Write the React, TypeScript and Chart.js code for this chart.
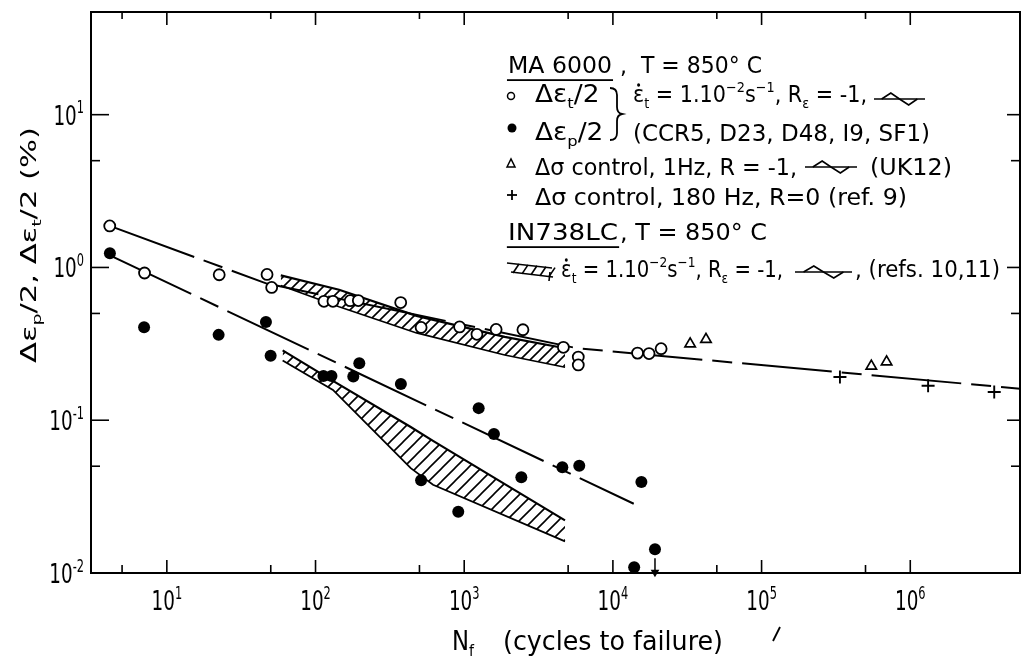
import React, { useEffect, useRef } from 'react';
import { Chart, registerables } from 'chart.js';

Chart.register(...registerables);

// ---------- axes ----------
const X_MIN = 3.09;
const X_MAX = 5.47e6;
const Y_MIN = 0.01;
const Y_MAX = 47;

const xMajorTicks = [10, 100, 1000, 10000, 100000, 1000000];
const xMajorExp = ['1', '2', '3', '4', '5', '6'];
const xMinorTicks = [5, 50, 500, 5000, 50000, 500000];
const yMajorTicks = [0.01, 0.1, 1, 10];
const yMajorExp = ['-2', '-1', '0', '1'];
const yMinorTicks = [0.05, 0.5, 5];

// ---------- MA 6000 data ----------
// open circles: total strain amplitude
const openN = [4.13, 7.08, 22.5, 47.2, 50.7, 114, 131, 171, 194, 374, 513, 931, 1218, 1639, 2483, 4645, 5850, 5850, 14650, 17500, 21100];
const openE = [1.87, 0.92, 0.896, 0.9, 0.74, 0.6, 0.6, 0.606, 0.607, 0.589, 0.405, 0.408, 0.365, 0.393, 0.391, 0.3, 0.259, 0.23, 0.275, 0.273, 0.294];
// filled circles: plastic strain amplitude
const filledN = [4.14, 7.03, 22.3, 46.4, 49.9, 113, 128, 197, 179.5, 375, 513, 1251, 1585, 912, 2422, 4570, 5940, 15550, 19190, 13900];
const filledE = [1.24, 0.406, 0.362, 0.44, 0.264, 0.195, 0.195, 0.236, 0.193, 0.1726, 0.0405, 0.12, 0.0813, 0.0252, 0.0424, 0.0492, 0.0504, 0.0394, 0.0143, 0.0109];
// triangles: stress control 1 Hz
const triN = [33080, 42270, 547000, 693000];
const triE = [0.316, 0.338, 0.226, 0.241];
// plus: stress control 180 Hz
const plusN = [336500, 1318000, 3670000];
const plusE = [0.192, 0.168, 0.153];
// run-out arrow below a filled circle
const arrowN = [19190, 19190];
const arrowE = [0.0125, 0.0101];

// fit curves
const fitTotalN = [4.13, 47.0, 5736, 5.47e6];
const fitTotalE = [1.87, 0.784, 0.296, 0.1607];
const fitPlasticN = [4.14, 13810];
const fitPlasticE = [1.2, 0.0284];

// ---------- IN738LC scatter bands ----------
const bandUpN = [58.4, 144, 478, 1873, 4770];
const bandUpTop = [0.888, 0.714, 0.482, 0.351, 0.296];
const bandUpBot = [0.763, 0.553, 0.373, 0.267, 0.222];
const bandLoN = [60.1, 131, 437, 617, 4763];
const bandLoTop = [0.2865, 0.181, 0.0902, 0.0733, 0.0221];
const bandLoBot = [0.2463, 0.158, 0.0486, 0.0378, 0.0161];

const pts = (xs: number[], ys: number[]) => xs.map((x, i) => ({ x, y: ys[i] }));

// ---------- text helpers ----------
type Run = { t: string; k?: 'sub' | 'sup' | 'dot' | 'u' };
const FAM = '"DejaVu Sans", "Liberation Sans", sans-serif';

function runSize(r: Run, F: number) {
  return r.k === 'sub' || r.k === 'sup' ? F * 0.62 : F;
}

function drawRuns(
  ctx: CanvasRenderingContext2D,
  runs: Run[],
  x: number,
  y: number,
  F: number,
  opt: { w?: number; sx?: number; maxSx?: number; align?: 'left' | 'center' | 'right' } = {}
) {
  let total = 0;
  const widths = runs.map((r) => {
    ctx.font = `${runSize(r, F)}px ${FAM}`;
    const w = ctx.measureText(r.t).width;
    total += w;
    return w;
  });
  let sx = opt.w ? opt.w / total : opt.sx ?? 1;
  if (opt.maxSx !== undefined) sx = Math.min(sx, opt.maxSx);
  const W = total * sx;
  const x0 = opt.align === 'center' ? x - W / 2 : opt.align === 'right' ? x - W : x;
  ctx.save();
  ctx.translate(x0, y);
  ctx.scale(sx, 1);
  ctx.textAlign = 'left';
  ctx.textBaseline = 'alphabetic';
  ctx.fillStyle = '#000';
  let cx = 0;
  runs.forEach((r, i) => {
    ctx.font = `${runSize(r, F)}px ${FAM}`;
    const dy = r.k === 'sub' ? 0.24 * F : r.k === 'sup' ? -0.42 * F : 0;
    ctx.fillText(r.t, cx, dy);
    if (r.k === 'dot') {
      ctx.beginPath();
      ctx.arc(cx + widths[i] * 0.5, -0.74 * F, 0.075 * F, 0, Math.PI * 2);
      ctx.fill();
    }
    if (r.k === 'u') ctx.fillRect(cx - 1, 0.27 * F, widths[i] + 2, 1.8);
    cx += widths[i];
  });
  ctx.restore();
}

function seg(ctx: CanvasRenderingContext2D, x1: number, y1: number, x2: number, y2: number) {
  ctx.beginPath();
  ctx.moveTo(x1, y1);
  ctx.lineTo(x2, y2);
  ctx.stroke();
}

function wave(ctx: CanvasRenderingContext2D, x0: number, x1: number, y: number) {
  const w = x1 - x0;
  ctx.lineWidth = 1.6;
  seg(ctx, x0, y, x1, y);
  ctx.beginPath();
  ctx.moveTo(x0 + 0.15 * w, y);
  ctx.lineTo(x0 + 0.33 * w, y - 6);
  ctx.lineTo(x0 + 0.5 * w, y);
  ctx.lineTo(x0 + 0.68 * w, y + 6);
  ctx.lineTo(x0 + 0.85 * w, y);
  ctx.stroke();
}

// ---------- legend text ----------
const LEG_F = 23;
const strainRateRuns: Run[] = [
  { t: 'ε', k: 'dot' }, { t: 't', k: 'sub' }, { t: ' = 1.10' }, { t: '−2', k: 'sup' },
  { t: 's' }, { t: '−1', k: 'sup' }, { t: ', R' }, { t: 'ε', k: 'sub' }, { t: ' = -1,' },
];

function drawLegend(ctx: CanvasRenderingContext2D) {
  ctx.save();
  ctx.strokeStyle = '#000';
  ctx.fillStyle = '#000';
  // line 1
  drawRuns(ctx, [{ t: 'MA 6000', k: 'u' }], 508, 73, LEG_F, { w: 104 });
  drawRuns(ctx, [{ t: ',  T = 850° C' }], 620, 73, LEG_F, { w: 142 });
  // line 2
  ctx.lineWidth = 1.5;
  ctx.beginPath(); ctx.arc(511, 96, 3.5, 0, Math.PI * 2); ctx.stroke();
  drawRuns(ctx, [{ t: 'Δε' }, { t: 't', k: 'sub' }, { t: '/2' }], 535, 102, 24, { w: 73, maxSx: 1.1 });
  drawRuns(ctx, strainRateRuns, 633, 102, LEG_F, { w: 234 });
  wave(ctx, 874, 925, 99);
  // brace
  ctx.lineWidth = 1.8;
  ctx.beginPath();
  ctx.moveTo(610, 88);
  ctx.quadraticCurveTo(617, 88, 617, 95);
  ctx.lineTo(617, 107);
  ctx.quadraticCurveTo(617, 113, 622, 114);
  ctx.quadraticCurveTo(617, 115, 617, 121);
  ctx.lineTo(617, 133);
  ctx.quadraticCurveTo(617, 140, 610, 140);
  ctx.stroke();
  // line 3
  ctx.beginPath(); ctx.arc(512, 128, 4.5, 0, Math.PI * 2); ctx.fill();
  drawRuns(ctx, [{ t: 'Δε' }, { t: 'p', k: 'sub' }, { t: '/2' }], 535, 140, 24, { w: 70, maxSx: 1.1 });
  drawRuns(ctx, [{ t: '(CCR5, D23, D48, I9, SF1)' }], 633, 141, LEG_F, { w: 297 });
  // line 4
  ctx.lineWidth = 1.5;
  ctx.beginPath(); ctx.moveTo(507, 167); ctx.lineTo(511, 159); ctx.lineTo(515, 167); ctx.closePath(); ctx.stroke();
  drawRuns(ctx, [{ t: 'Δσ control, 1Hz, R = -1,' }], 535, 175, LEG_F, { w: 262 });
  wave(ctx, 805, 857, 167);
  drawRuns(ctx, [{ t: '(UK12)' }], 870, 175, LEG_F, { w: 82 });
  // line 5
  ctx.lineWidth = 1.8;
  seg(ctx, 507, 195, 517, 195);
  seg(ctx, 512, 190, 512, 200);
  drawRuns(ctx, [{ t: 'Δσ control, 180 Hz, R=0 (ref. 9)' }], 535, 205, LEG_F, { w: 372 });
  // line 6
  drawRuns(ctx, [{ t: 'IN738LC', k: 'u' }], 508, 240, LEG_F, { w: 110 });
  drawRuns(ctx, [{ t: ', T = 850° C' }], 620, 240, LEG_F, { w: 147 });
  // line 7: hatched band icon
  ctx.lineWidth = 1.6;
  seg(ctx, 507, 263, 552, 268);
  seg(ctx, 511, 272, 553, 277);
  for (let i = 0; i < 5; i++) {
    const bx = 513 + i * 9;
    seg(ctx, bx, 273 + i * 0.9, bx + 6, 264 + i * 0.9);
  }
  seg(ctx, 550, 272, 549, 281);
  drawRuns(ctx, strainRateRuns, 561, 277, LEG_F, { w: 222 });
  wave(ctx, 795, 852, 272);
  drawRuns(ctx, [{ t: ', (refs. 10,11)' }], 855, 277, LEG_F, { w: 145 });
  ctx.restore();
}

// ---------- frame, ticks, labels, titles ----------
const overlay = {
  id: 'overlay',
  afterDraw(chart: any) {
    const ctx: CanvasRenderingContext2D = chart.ctx;
    const { left, right, top, bottom } = chart.chartArea;
    const xs = chart.scales.x;
    const ys = chart.scales.y;
    ctx.save();
    ctx.strokeStyle = '#000';
    ctx.fillStyle = '#000';
    ctx.lineWidth = 2;
    ctx.strokeRect(left, top, right - left, bottom - top);
    ctx.lineWidth = 1.6;
    xMajorTicks.forEach((v) => {
      const p = xs.getPixelForValue(v);
      seg(ctx, p, bottom, p, bottom - 13);
      seg(ctx, p, top, p, top + 13);
    });
    xMinorTicks.forEach((v) => {
      const p = xs.getPixelForValue(v);
      seg(ctx, p, bottom, p, bottom - 8);
      seg(ctx, p, top, p, top + 7);
    });
    yMajorTicks.forEach((v) => {
      const p = ys.getPixelForValue(v);
      seg(ctx, left, p, left + 18, p);
      seg(ctx, right, p, right - 13, p);
    });
    yMinorTicks.forEach((v) => {
      const p = ys.getPixelForValue(v);
      seg(ctx, left, p, left + 9, p);
      seg(ctx, right, p, right - 9, p);
    });
    // tick labels
    const TF = 27;
    xMajorTicks.forEach((v, i) => {
      const p = xs.getPixelForValue(v);
      drawRuns(ctx, [{ t: '10' }, { t: xMajorExp[i], k: 'sup' }], p, bottom + 37, TF, { sx: 0.68, align: 'center' });
    });
    yMajorTicks.forEach((v, i) => {
      const p = ys.getPixelForValue(v);
      drawRuns(ctx, [{ t: '10' }, { t: yMajorExp[i], k: 'sup' }], left - 7, p + 10, TF, { sx: 0.68, align: 'right' });
    });
    // x title
    drawRuns(ctx, [{ t: 'N' }, { t: 'f', k: 'sub' }], 452, 650, 26, { w: 22 });
    drawRuns(ctx, [{ t: '(cycles to failure)' }], 503, 650, 26, { w: 220 });
    // stray mark
    ctx.lineWidth = 1.8;
    seg(ctx, 773, 641, 780, 627);
    // y title (rotated)
    ctx.save();
    ctx.translate(36, 363);
    ctx.rotate(-Math.PI / 2);
    drawRuns(ctx, [{ t: 'Δε' }, { t: 'p', k: 'sub' }, { t: '/2, Δε' }, { t: 't', k: 'sub' }, { t: '/2 (%)' }], 0, 0, 21, { w: 236 });
    ctx.restore();
    drawLegend(ctx);
    ctx.restore();
  },
};

function makeHatch(size: number) {
  const pc = document.createElement('canvas');
  pc.width = size;
  pc.height = size;
  const p = pc.getContext('2d')!;
  p.strokeStyle = '#000';
  p.lineWidth = 1.6;
  p.beginPath();
  p.moveTo(0, size);
  p.lineTo(size, 0);
  p.moveTo(-2, 2);
  p.lineTo(2, -2);
  p.moveTo(size - 2, size + 2);
  p.lineTo(size + 2, size - 2);
  p.stroke();
  return pc;
}

export default function App() {
  const ref = useRef<HTMLCanvasElement>(null);
  useEffect(() => {
    const canvas = ref.current!;
    const ctx = canvas.getContext('2d')!;
    const hatchUp = ctx.createPattern(makeHatch(10), 'repeat')!;
    const hatchLo = ctx.createPattern(makeHatch(13), 'repeat')!;
    const lineBase = { showLine: true, pointRadius: 0, borderColor: '#000', tension: 0 };
    const chart = new Chart(canvas, {
      type: 'scatter',
      data: {
        datasets: [
          { label: 'open', data: pts(openN, openE), pointStyle: 'circle', pointRadius: 5.5, borderWidth: 1.8, borderColor: '#000', backgroundColor: '#fff', order: 0, clip: false },
          { label: 'filled', data: pts(filledN, filledE), pointStyle: 'circle', pointRadius: 6, borderWidth: 0, borderColor: '#000', backgroundColor: '#000', order: 0, clip: false },
          { label: 'tri', data: pts(triN, triE), pointStyle: 'triangle', pointRadius: 6, borderWidth: 1.7, borderColor: '#000', backgroundColor: '#fff', order: 0, clip: false },
          { label: 'plus', data: pts(plusN, plusE), pointStyle: 'cross', pointRadius: 6.5, borderWidth: 1.9, borderColor: '#000', backgroundColor: '#000', order: 0, clip: false },
          { label: 'arrow', data: pts(arrowN, arrowE), showLine: true, borderColor: '#000', borderWidth: 1.5, pointStyle: 'triangle', pointRotation: 180, pointRadius: [0, 3.5], backgroundColor: '#000', order: 0, clip: false },
          { label: 'fitTotal', data: pts(fitTotalN, fitTotalE), ...lineBase, borderWidth: 2, borderDash: [90, 10, 20, 10], order: 1 },
          { label: 'fitPlastic', data: pts(fitPlasticN, fitPlasticE), ...lineBase, borderWidth: 2, borderDash: [90, 10, 20, 10], order: 1 },
          { label: 'bandUpTop', data: pts(bandUpN, bandUpTop), ...lineBase, borderWidth: 2.2, fill: false, order: 2 },
          { label: 'bandUpBot', data: pts(bandUpN, bandUpBot), ...lineBase, borderWidth: 1.6, fill: '-1', backgroundColor: hatchUp, order: 2 },
          { label: 'bandLoTop', data: pts(bandLoN, bandLoTop), ...lineBase, borderWidth: 2.2, fill: false, order: 2 },
          { label: 'bandLoBot', data: pts(bandLoN, bandLoBot), ...lineBase, borderWidth: 1.8, fill: '-1', backgroundColor: hatchLo, order: 2 },
        ] as any,
      },
      options: {
        responsive: false,
        devicePixelRatio: 1,
        animation: false,
        events: [],
        layout: { padding: { top: 12, right: 12, left: 0, bottom: 0 } },
        plugins: { legend: { display: false }, tooltip: { enabled: false } },
        scales: {
          x: {
            type: 'logarithmic', min: X_MIN, max: X_MAX, bounds: 'data',
            grid: { display: false }, border: { display: false }, ticks: { display: false },
            afterFit: (s: any) => { s.height = 88; },
          },
          y: {
            type: 'logarithmic', min: Y_MIN, max: Y_MAX, bounds: 'data',
            grid: { display: false }, border: { display: false }, ticks: { display: false },
            afterFit: (s: any) => { s.width = 91; },
          },
        },
      } as any,
      plugins: [overlay],
    });
    return () => chart.destroy();
  }, []);
  return (
    <div style={{ position: 'fixed', left: 0, top: 0, width: 1032, height: 661, background: '#fff' }}>
      <canvas ref={ref} width={1032} height={661} style={{ display: 'block' }} />
    </div>
  );
}
